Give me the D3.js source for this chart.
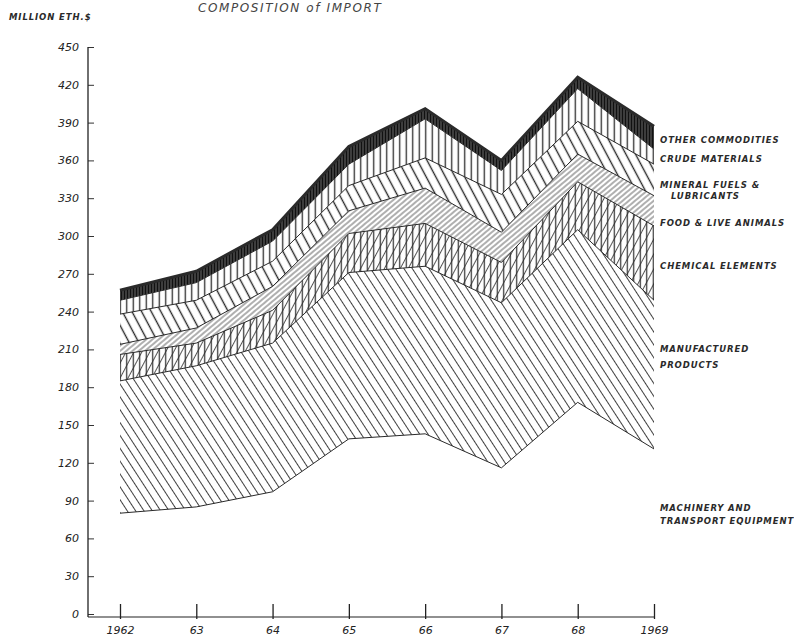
<!DOCTYPE html>
<html>
<head>
<meta charset="utf-8">
<script src="https://cdn.jsdelivr.net/npm/d3@7"></script>
<style>
  body { margin: 0; background: #fff; }
  .lbl { font-family: "DejaVu Sans", sans-serif; font-weight: bold; font-style: oblique; font-size: 8.5px; letter-spacing: 0.9px; fill: #2a2a2a; }
  .tick text { font-family: "DejaVu Sans", sans-serif; font-style: oblique; font-size: 11px; fill: #222; }
</style>
</head>
<body>
<div class="chart"></div>
<script>
// data (million Eth. $)
var years = [1962, 1963, 1964, 1965, 1966, 1967, 1968, 1969];
var machinery    = [80, 85, 97, 139, 143, 116, 168, 131];
var manufactured = [105, 112, 118, 132, 133, 131, 137, 118];
var chemical     = [21, 18, 26, 31, 34, 32, 38, 59];
var food         = [8, 12, 19, 18, 28, 24, 22, 24];
var mineral      = [24, 22, 20, 20, 24, 30, 26, 25];
var crude        = [11, 14, 16, 17, 31, 19, 26, 12];
var other        = [8, 9, 9, 14, 8, 8, 9, 18];
var yTicks = [0, 30, 60, 90, 120, 150, 180, 210, 240, 270, 300, 330, 360, 390, 420, 450];

var keys = ['machinery', 'manufactured', 'chemical', 'food', 'mineral', 'crude', 'other'];
var table = years.map(function (y, i) {
  return { year: y, machinery: machinery[i], manufactured: manufactured[i], chemical: chemical[i],
    food: food[i], mineral: mineral[i], crude: crude[i], other: other[i] };
});

var width = 794, height = 638;
var svg = d3.select('.chart').append('svg').attr('width', width).attr('height', height);

var x = d3.scaleLinear().domain([1962, 1969]).range([120, 654]);
var y = d3.scaleLinear().domain([0, 450]).range([614, 47]);

// hatch patterns
var defs = svg.append('defs');
function hatch(id, gap, angle, sw, color) {
  var p = defs.append('pattern').attr('id', id)
    .attr('patternUnits', 'userSpaceOnUse')
    .attr('width', gap).attr('height', 20)
    .attr('patternTransform', 'rotate(' + angle + ')');
  p.append('line').attr('x1', gap / 2).attr('x2', gap / 2).attr('y1', -2).attr('y2', 22)
    .attr('stroke', color || '#2a2a2a').attr('stroke-width', sw);
}
hatch('h-manuf', 7, -33, 0.9);
hatch('h-chem-v', 6.5, 0, 1.2);
hatch('h-chem-d', 7, 28, 0.8);
hatch('h-food', 4, 50, 0.75);
hatch('h-mineral', 8.5, -28, 1.4);
hatch('h-crude', 6.5, 0, 1.3);
hatch('h-other', 3, 0, 1.5, '#111');

var fills = {
  machinery: ['#fff'],
  manufactured: ['url(#h-manuf)'],
  chemical: ['url(#h-chem-v)', 'url(#h-chem-d)'],
  food: ['url(#h-food)'],
  mineral: ['url(#h-mineral)'],
  crude: ['url(#h-crude)'],
  other: ['#4a4a4a', 'url(#h-other)']
};

var series = d3.stack().keys(keys)(table);
var area = d3.area()
  .x(function (d) { return x(d.data.year); })
  .y0(function (d) { return y(d[0]); })
  .y1(function (d) { return y(d[1]); });
var topLine = d3.line()
  .x(function (d) { return x(d.data.year); })
  .y(function (d) { return y(d[1]); });

series.forEach(function (s) {
  fills[s.key].forEach(function (f) {
    svg.append('path').datum(s).attr('d', area).attr('fill', f);
  });
  svg.append('path').datum(s).attr('d', topLine)
    .attr('fill', 'none').attr('stroke', '#2a2a2a')
    .attr('stroke-width', s.key === 'other' ? 3 : 1);
});

// axes
var yAxis = d3.axisLeft(y).tickValues(yTicks).tickSize(-6).tickSizeOuter(0).tickPadding(9);
var gy = svg.append('g').attr('transform', 'translate(88,0)').call(yAxis);
gy.select('.domain').remove();
gy.selectAll('.tick line').attr('stroke', '#333');
svg.append('line').attr('x1', 88).attr('x2', 88).attr('y1', y(450)).attr('y2', y(0) + 3)
  .attr('stroke', '#222').attr('stroke-width', 1.3);

var xAxis = d3.axisBottom(x).tickValues(years).tickSize(-13).tickSizeOuter(0).tickPadding(9)
  .tickFormat(function (d) { return (d === 1962 || d === 1969) ? String(d) : String(d).slice(2); });
var gx = svg.append('g').attr('transform', 'translate(0,' + (y(0) + 3) + ')').call(xAxis);
gx.select('.domain').remove();
gx.selectAll('.tick line').attr('stroke', '#222').attr('stroke-width', 1.3).attr('y2', -13).attr('y1', 2);
svg.append('line').attr('x1', 88).attr('x2', x(1969)).attr('y1', y(0) + 3).attr('y2', y(0) + 3)
  .attr('stroke', '#222').attr('stroke-width', 1.2);

// titles
svg.append('text').attr('x', 198).attr('y', 12)
  .style('font-family', '"DejaVu Sans", sans-serif').style('font-style', 'oblique')
  .style('font-size', '12px').style('letter-spacing', '1.6px').style('fill', '#444')
  .text('COMPOSITION  of  IMPORT');
svg.append('text').attr('class', 'lbl').attr('x', 9).attr('y', 20).text('MILLION  ETH.$');

// series labels
var labels = [
  ['OTHER COMMODITIES', 660, 143],
  ['CRUDE MATERIALS', 660, 162],
  ['MINERAL FUELS &', 660, 188],
  ['LUBRICANTS', 671, 199],
  ['FOOD & LIVE ANIMALS', 660, 226],
  ['CHEMICAL ELEMENTS', 660, 269],
  ['MANUFACTURED', 660, 352],
  ['PRODUCTS', 660, 368],
  ['MACHINERY AND', 660, 511],
  ['TRANSPORT EQUIPMENT', 660, 524]
];
labels.forEach(function (l) {
  svg.append('text').attr('class', 'lbl').attr('x', l[1]).attr('y', l[2]).text(l[0]);
});
</script>
</body>
</html>
